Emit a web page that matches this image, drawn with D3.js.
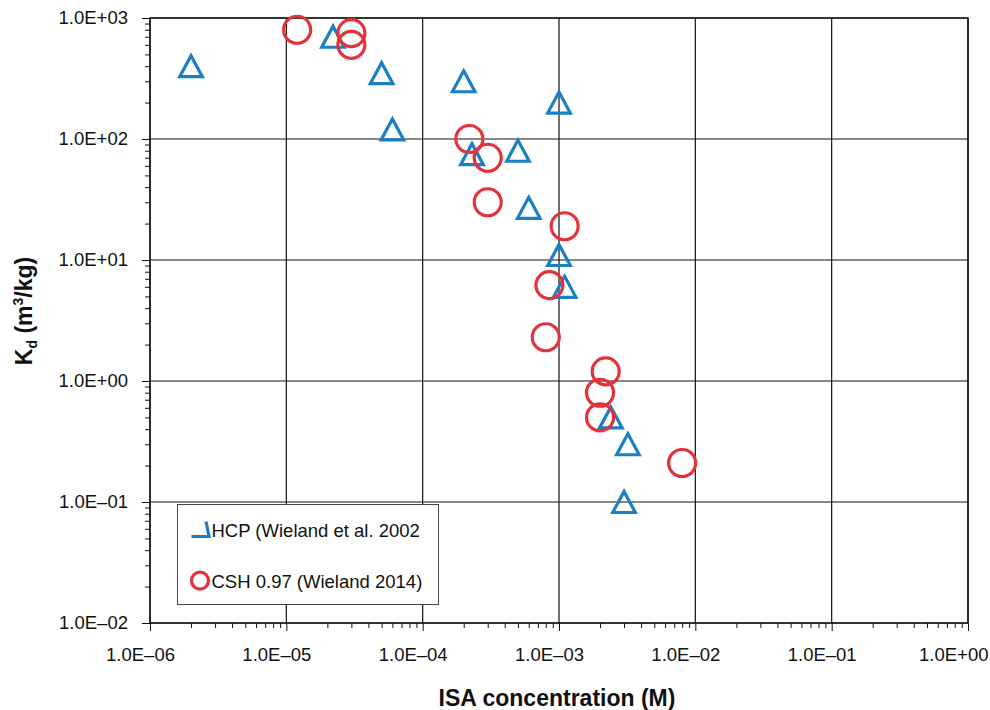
<!DOCTYPE html>
<html>
<head>
<meta charset="utf-8">
<script src="https://cdn.jsdelivr.net/npm/d3@7"></script>
<style>
  body { margin: 0; background: #fff; }
  svg { font-family: "Liberation Sans", Arial, sans-serif; }
  .tick text { font-size: 18.5px; fill: #111; }
  .axis path, .axis line { stroke: #111; }
</style>
</head>
<body>
<svg id="chart" width="990" height="710"></svg>
<script>
// HCP (Wieland et al. 2002)
const hcpIsa = [2e-6, 2.2e-5, 5e-5, 6e-5, 2e-4, 1e-3, 2.3e-4, 5e-4, 6e-4, 1e-3, 1.1e-3, 2.4e-3, 3.2e-3, 3e-3];
const hcpKd  = [400, 700, 350, 120, 300, 200, 75, 80, 27, 11, 6, 0.5, 0.3, 0.1];

// CSH 0.97 (Wieland 2014)
const cshIsa = [1.2e-5, 3e-5, 3e-5, 2.2e-4, 3e-4, 3e-4, 1.1e-3, 8.5e-4, 8e-4, 2.2e-3, 2e-3, 2e-3, 8e-3];
const cshKd  = [800, 750, 600, 100, 70, 30, 19, 6.2, 2.3, 1.2, 0.8, 0.5, 0.21];

// tick exponents
const xExps = [-6, -5, -4, -3, -2, -1, 0];
const yExps = [-2, -1, 0, 1, 2, 3];

const width = 990, height = 710;
const margin = { left: 150, right: 22, top: 18, bottom: 87 };
const drawWidth = width - margin.left - margin.right;
const drawHeight = height - margin.top - margin.bottom;

const blue = '#1b7fc3';
const red = '#e5313a';

const fmt = v => {
  const e = Math.round(Math.log10(v));
  return '1.0E' + (e < 0 ? '\u2013' : '+') + String(Math.abs(e)).padStart(2, '0');
};

const xScale = d3.scaleLog().domain([1e-6, 1]).range([0, drawWidth]);
const yScale = d3.scaleLog().domain([1e-2, 1e3]).range([drawHeight, 0]);

const xMajor = xExps.map(e => Math.pow(10, e));
const yMajor = yExps.map(e => Math.pow(10, e));
const minorOf = majors => {
  const out = [];
  majors.slice(0, -1).forEach(m => { for (let k = 2; k <= 9; k++) out.push(m * k); });
  return out;
};

const svg = d3.select('#chart');
svg.append('rect').attr('width', width).attr('height', height).attr('fill', '#fff');

const g = svg.append('g').attr('transform', `translate(${margin.left},${margin.top})`);

// Grid
g.append('g').selectAll('line').data(yMajor).join('line')
  .attr('x1', 0).attr('x2', drawWidth)
  .attr('y1', d => yScale(d)).attr('y2', d => yScale(d))
  .attr('stroke', '#111').attr('stroke-width', 1.2);
g.append('g').selectAll('line').data(xMajor).join('line')
  .attr('y1', 0).attr('y2', drawHeight)
  .attr('x1', d => xScale(d)).attr('x2', d => xScale(d))
  .attr('stroke', '#111').attr('stroke-width', 1.2);

// Frame
g.append('rect').attr('width', drawWidth).attr('height', drawHeight)
  .attr('fill', 'none').attr('stroke', '#111').attr('stroke-width', 1.4);

// Axes
g.append('g').attr('class', 'axis')
  .call(d3.axisLeft(yScale).tickValues(minorOf(yMajor)).tickSize(5).tickFormat(''))
  .call(a => a.select('.domain').remove());
g.append('g').attr('class', 'axis')
  .call(d3.axisLeft(yScale).tickValues(yMajor).tickSize(8).tickPadding(14).tickFormat(fmt))
  .call(a => a.select('.domain').remove());

g.append('g').attr('class', 'axis').attr('transform', `translate(0,${drawHeight})`)
  .call(d3.axisBottom(xScale).tickValues(minorOf(xMajor)).tickSize(5).tickFormat(''))
  .call(a => a.select('.domain').remove());
g.append('g').attr('class', 'axis').attr('transform', `translate(0,${drawHeight})`)
  .call(d3.axisBottom(xScale).tickValues(xMajor).tickSize(8).tickPadding(17).tickFormat(fmt))
  .call(a => a.select('.domain').remove())
  // labels sit a little left of their ticks, as in the original
  .call(a => a.selectAll('.tick text').attr('x', -10))
  .call(a => a.selectAll('.tick text').filter(d => d === 1)
    .attr('text-anchor', 'end').attr('x', width - margin.left - drawWidth - 2));

// Markers
const tri = 'M0,-10.5L11.3,10.5L-11.3,10.5Z';
const hcp = hcpIsa.map((x, i) => ({ x, y: hcpKd[i] }));
const csh = cshIsa.map((x, i) => ({ x, y: cshKd[i] }));

g.append('g').selectAll('path').data(hcp).join('path')
  .attr('d', tri)
  .attr('transform', d => `translate(${xScale(d.x)},${yScale(d.y)})`)
  .attr('fill', 'none').attr('stroke', blue).attr('stroke-width', 3.2);

g.append('g').selectAll('circle').data(csh).join('circle')
  .attr('cx', d => xScale(d.x)).attr('cy', d => yScale(d.y))
  .attr('r', 13.5)
  .attr('fill', 'none').attr('stroke', red).attr('stroke-width', 3.2);

// Legend
const lg = svg.append('g');
lg.append('rect').attr('x', 177.5).attr('y', 504.5).attr('width', 261).attr('height', 100)
  .attr('fill', '#fff').attr('stroke', '#444').attr('stroke-width', 1);
lg.append('path').attr('d', 'M206,521.5L209,536.5L191.5,536.5')
  .attr('fill', 'none').attr('stroke', blue).attr('stroke-width', 3.2);
lg.append('circle').attr('cx', 200).attr('cy', 580.7).attr('r', 8.5)
  .attr('fill', 'none').attr('stroke', red).attr('stroke-width', 3.2);
lg.append('text').attr('x', 211.5).attr('y', 536.7).attr('font-size', 18.5).attr('fill', '#111')
  .text('HCP (Wieland et al. 2002');
lg.append('text').attr('x', 211.5).attr('y', 587.7).attr('font-size', 18.5).attr('fill', '#111')
  .text('CSH 0.97 (Wieland 2014)');

// Axis titles
svg.append('text')
  .attr('x', margin.left + drawWidth / 2 - 2).attr('y', 706)
  .attr('text-anchor', 'middle').attr('font-size', 23).attr('font-weight', 'bold').attr('fill', '#111')
  .text('ISA concentration (M)');

const yt = svg.append('text')
  .attr('transform', 'translate(32,311) rotate(-90)')
  .attr('text-anchor', 'middle').attr('font-size', 23).attr('font-weight', 'bold').attr('fill', '#111');
yt.append('tspan').text('K');
yt.append('tspan').attr('font-size', 14).attr('dy', 5).text('d');
yt.append('tspan').attr('dy', -5).text(' (m');
yt.append('tspan').attr('font-size', 14).attr('dy', -9).text('3');
yt.append('tspan').attr('dy', 9).text('/kg)');
</script>
</body>
</html>
